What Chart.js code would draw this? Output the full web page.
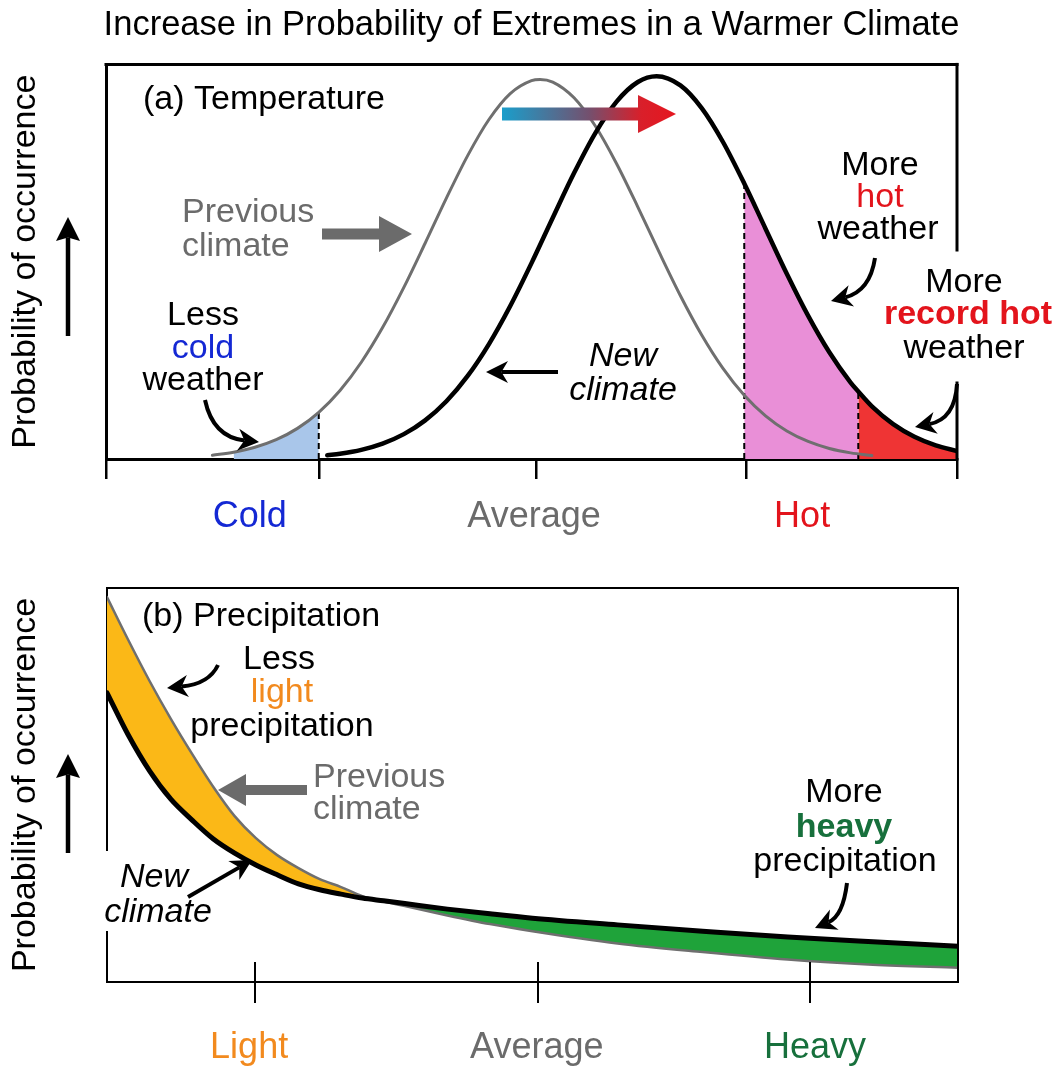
<!DOCTYPE html>
<html>
<head>
<meta charset="utf-8">
<script src="https://cdn.jsdelivr.net/npm/chart.js@4.4.1/dist/chart.umd.min.js"></script>
<style>
html,body{margin:0;padding:0;background:#fff;}
#wrap{position:relative;width:1063px;height:1072px;overflow:hidden;background:#fff;}
#cA{position:absolute;left:0;top:0;}
#cB{position:absolute;left:0;top:545px;}
</style>
</head>
<body>
<div id="wrap">
<canvas id="cA" width="1063" height="545"></canvas>
<canvas id="cB" width="1063" height="527"></canvas>
</div>
<script>
// ================= DATA : panel (a) Temperature =================
const tempAxisTicks = [0, 25, 50.6, 75.2, 100];
const tempCategories = ['Cold', 'Average', 'Hot'];
const tempCategoryPos = [16.9, 50.3, 81.8];

const prevTempX = [12.5,15,17.5,20,22.5,25,27.5,30,32.5,35,37.5,40,42.5,45,47.5,50,51,52.5,55,57.5,60,62.5,65,67.5,70,72.5,75,77.5,80,82.5,85,87.5,90];
const prevTempY = [0.97,1.73,2.97,4.89,7.76,11.83,17.37,24.52,33.30,43.50,54.68,66.11,76.89,86.04,92.61,95.90,96.2,95.53,91.54,84.39,74.84,63.85,52.40,41.37,31.42,22.95,16.13,10.91,7.09,4.44,2.67,1.55,0.86];

const newTempX = [26,27.5,30,32.5,35,37.5,40,42.5,45,47.5,50,52.5,55,57.5,60,62.5,64.7,67.5,70,72.5,75,77.5,80,82.5,85,87.5,88.4,90,92.5,95,97.5,100];
const newTempY = [0.93,1.33,2.32,3.90,6.30,9.79,14.64,21.05,29.13,38.77,49.64,61.15,72.46,82.60,90.58,95.55,97.0,94.67,88.91,80.33,69.81,58.37,46.95,36.33,27.04,19.36,17.1,13.34,8.84,5.63,3.45,2.04];

const coldRange = [15, 25];      // shaded under previous climate
const hotRange = [75, 88.4];     // shaded under new climate
const recordRange = [88.4, 100]; // shaded under new climate

// ================= DATA : panel (b) Precipitation =================
const precipAxisTicks = [17.4, 50.6, 82.6];
const precipCategories = ['Light', 'Average', 'Heavy'];
const precipCategoryPos = [16.7, 50.5, 83.2];

const precipX = [0,2.5,5,7.5,10,12.5,15,17.5,20,22.5,25,27.5,30,32.5,35,40,45,50,60,70,80,90,100];
const prevPrecipY = [97.7,86.8,76.4,66.8,57.9,49.5,42.1,36.5,32.2,28.9,26.1,24.1,21.8,20.4,19.3,16.9,14.7,12.9,9.8,7.6,5.7,4.4,3.6];
const newPrecipY  = [73.4,62.7,53.6,46.4,41.1,36.3,32.7,29.7,27.2,24.9,23.4,22.3,21.3,20.6,19.9,18.5,17.3,16.2,14.5,12.9,11.4,10.2,9.1];

// ================= STYLE =================
const FONT = '"Liberation Sans", Arial, Helvetica, sans-serif';
const C = {
  greyLine: '#6f6f6f', greyText: '#6b6b6b', blue: '#1428d4', red: '#e3141c',
  orange: '#f28a1e', greenText: '#17703c',
  coldFill: '#a9c6ea', hotFill: '#e98fd7', recordFill: '#ef3434',
  yellow: '#fbb817', green: '#1fa33a'
};

const pts = (xs, ys) => xs.map((x, i) => ({x, y: ys[i]}));
const inRange = (arr, r) => arr.filter(p => p.x >= r[0] && p.x <= r[1]);
const valAt = (xs, ys, x) => ys[xs.indexOf(x)];

// ---------- drawing helpers ----------
function txt(ctx, s) {
  ctx.save();
  ctx.font = `${s.style || 'normal'} ${s.weight || 'normal'} ${s.size || 34}px ${FONT}`;
  ctx.fillStyle = s.color || '#000';
  ctx.textAlign = s.align || 'center';
  ctx.textBaseline = 'middle';
  ctx.fillText(s.t, s.x, s.y);
  ctx.restore();
}
function head(ctx, tx, ty, dx, dy, len, hw, notch, color) {
  const L = Math.hypot(dx, dy), ux = dx / L, uy = dy / L, nx = -uy, ny = ux;
  ctx.beginPath();
  ctx.moveTo(tx, ty);
  ctx.lineTo(tx - ux * len + nx * hw, ty - uy * len + ny * hw);
  ctx.lineTo(tx - ux * len * notch, ty - uy * len * notch);
  ctx.lineTo(tx - ux * len - nx * hw, ty - uy * len - ny * hw);
  ctx.closePath();
  ctx.fillStyle = color;
  ctx.fill();
}
function curveArrow(ctx, a, o = {}) {
  const [x0, y0, cx, cy, x1, y1] = a;
  const len = o.len || 20, hw = o.hw || 10, notch = o.notch || 0.7, col = o.color || '#000';
  const dx = x1 - cx, dy = y1 - cy, L = Math.hypot(dx, dy);
  const ex = x1 - dx / L * len * notch, ey = y1 - dy / L * len * notch;
  ctx.save();
  ctx.strokeStyle = col; ctx.lineWidth = o.lw || 4; ctx.lineCap = 'butt';
  ctx.beginPath(); ctx.moveTo(x0, y0); ctx.quadraticCurveTo(cx, cy, ex, ey); ctx.stroke();
  head(ctx, x1, y1, dx, dy, len, hw, notch, col);
  ctx.restore();
}
function straightArrow(ctx, x0, y0, x1, y1, o) {
  curveArrow(ctx, [x0, y0, (x0 + x1) / 2, (y0 + y1) / 2, x1, y1], o);
}
function blockArrow(ctx, x0, y, x1, sh, hl, hh, fill) {
  const d = Math.sign(x1 - x0), hb = x1 - d * hl;
  ctx.save();
  ctx.beginPath();
  ctx.moveTo(x0, y - sh / 2); ctx.lineTo(hb, y - sh / 2); ctx.lineTo(hb, y - hh / 2);
  ctx.lineTo(x1, y); ctx.lineTo(hb, y + hh / 2); ctx.lineTo(hb, y + sh / 2); ctx.lineTo(x0, y + sh / 2);
  ctx.closePath(); ctx.fillStyle = fill; ctx.fill();
  ctx.restore();
}
function line(ctx, x0, y0, x1, y1, w, col) {
  ctx.save(); ctx.strokeStyle = col || '#000'; ctx.lineWidth = w; ctx.lineCap = 'square';
  ctx.beginPath(); ctx.moveTo(x0, y0); ctx.lineTo(x1, y1); ctx.stroke(); ctx.restore();
}

function baseOptions(axisW, rightW, xH, ticks, tickLen, borderW, padTop, title) {
  return {
    responsive: false, animation: false, events: [],
    layout: {padding: {top: padTop, left: 0, right: 0, bottom: 0}},
    plugins: {
      legend: {display: false}, tooltip: {enabled: false},
      filler: {drawTime: 'beforeDatasetsDraw'},
      title: title ? {display: true, text: title, color: '#000',
        font: {family: FONT, size: 34.5, weight: 'normal'}, padding: {top: 5, bottom: 18}} : {display: false}
    },
    scales: {
      x: {type: 'linear', min: 0, max: 100, position: 'bottom',
        afterBuildTicks: s => { s.ticks = ticks.map(v => ({value: v})); },
        afterFit: s => { s.height = xH; },
        ticks: {display: false},
        grid: {display: true, drawOnChartArea: false, drawTicks: true, tickLength: tickLen, lineWidth: borderW === 3 ? 2.5 : 2, color: '#000'},
        border: {display: true, width: borderW, color: '#000'}},
      y: {type: 'linear', min: 0, max: 100, position: 'left',
        afterFit: s => { s.width = axisW; },
        ticks: {display: false}, grid: {display: false},
        border: {display: true, width: borderW, color: '#000'},
        title: {display: true, text: 'Probability of occurrence', color: '#000',
          font: {family: FONT, size: 34, weight: 'normal'}, padding: {top: 5, bottom: 0}}},
      yR: {type: 'linear', min: 0, max: 100, position: 'right', display: true,
        afterFit: s => { s.width = rightW; },
        ticks: {display: false}, grid: {display: false}, border: {display: false}}
    }
  };
}

const lineDs = (data, color, w, extra) => Object.assign({
  data, borderColor: color, borderWidth: w, pointRadius: 0, fill: false,
  cubicInterpolationMode: 'monotone', borderJoinStyle: 'round', borderCapStyle: 'round'
}, extra || {});
const fillDs = (data, color) => ({
  data, borderWidth: 0, borderColor: 'rgba(0,0,0,0)', backgroundColor: color,
  pointRadius: 0, fill: 'origin', cubicInterpolationMode: 'monotone'
});
const dashDs = (x, top) => ({
  data: [{x, y: 0}, {x, y: top}], borderColor: '#000', borderWidth: 2, borderDash: [6, 4],
  pointRadius: 0, fill: false, tension: 0
});

// ================= PANEL (a) =================
const prevTemp = pts(prevTempX, prevTempY);
const newTemp = pts(newTempX, newTempY);

const annotA = {
  id: 'annotA',
  afterDraw(chart) {
    const ctx = chart.ctx, a = chart.chartArea, xs = chart.scales.x;
    line(ctx, a.left, a.top, a.right, a.top, 3);
    line(ctx, a.right, a.top, a.right, 250, 3);
    line(ctx, a.right, 383, a.right, a.bottom, 3);
    const cols = [C.blue, C.greyText, C.red];
    tempCategories.forEach((c, i) => txt(ctx, {t: c, x: xs.getPixelForValue(tempCategoryPos[i]), y: 517, size: 36, color: cols[i]}));
    straightArrow(ctx, 68, 336, 68, 217, {lw: 4.5, len: 24, hw: 12, notch: 0.85});
    const g = ctx.createLinearGradient(502, 0, 676, 0);
    g.addColorStop(0, '#1a9ecb'); g.addColorStop(0.5, '#74506e'); g.addColorStop(0.8, '#d91f2a'); g.addColorStop(1, '#e5161f');
    blockArrow(ctx, 502, 114, 676, 13, 38, 38, g);
    blockArrow(ctx, 322, 234, 412, 11, 33, 36, '#6b6b6b');
    straightArrow(ctx, 558, 372, 486, 372, {lw: 4, len: 22, hw: 11, notch: 0.7});
    curveArrow(ctx, [205, 400, 213, 437, 259, 442], {len: 21, hw: 11});
    curveArrow(ctx, [875, 258, 870, 291, 831, 301], {len: 21, hw: 11});
    curveArrow(ctx, [957, 384, 955, 419, 915, 427], {len: 21, hw: 11});
    [
      {t: '(a) Temperature', x: 143, y: 100, align: 'left'},
      {t: 'Previous', x: 182, y: 213, align: 'left', color: C.greyText},
      {t: 'climate', x: 182, y: 247, align: 'left', color: C.greyText},
      {t: 'Less', x: 203, y: 316},
      {t: 'cold', x: 203, y: 349, color: C.blue},
      {t: 'weather', x: 203, y: 381},
      {t: 'New', x: 623, y: 357, style: 'italic'},
      {t: 'climate', x: 623, y: 391, style: 'italic'},
      {t: 'More', x: 880, y: 166},
      {t: 'hot', x: 880, y: 198, color: C.red},
      {t: 'weather', x: 878, y: 230},
      {t: 'More', x: 964, y: 283},
      {t: 'record hot', x: 968, y: 315, color: C.red, weight: 'bold'},
      {t: 'weather', x: 964, y: 349}
    ].forEach(s => txt(ctx, s));
  }
};

new Chart(document.getElementById('cA'), {
  type: 'line',
  data: {
    datasets: [
      lineDs(newTemp, '#000', 4.5),
      lineDs(prevTemp, C.greyLine, 3),
      dashDs(coldRange[1], valAt(prevTempX, prevTempY, coldRange[1])),
      dashDs(hotRange[0], valAt(newTempX, newTempY, hotRange[0])),
      dashDs(recordRange[0], valAt(newTempX, newTempY, recordRange[0])),
      fillDs(inRange(prevTemp, coldRange), C.coldFill),
      fillDs(inRange(newTemp, hotRange), C.hotFill),
      fillDs(inRange(newTemp, recordRange), C.recordFill)
    ]
  },
  options: baseOptions(106, 106, 86, tempAxisTicks, 20, 3, 0,
    'Increase in Probability of Extremes in a Warmer Climate'),
  plugins: [annotA]
});

// ================= PANEL (b) =================
const prevPrecip = pts(precipX, prevPrecipY);
const newPrecip = pts(precipX, newPrecipY);

const annotB = {
  id: 'annotB',
  afterDraw(chart) {
    const ctx = chart.ctx, a = chart.chartArea, xs = chart.scales.x;
    line(ctx, a.left, a.top, a.right, a.top, 2);
    line(ctx, a.right, a.top, a.right, a.bottom, 2);
    precipAxisTicks.forEach(v => {
      const px = Math.round(xs.getPixelForValue(v));
      line(ctx, px, a.bottom - 19, px, a.bottom, 2);
    });
    ctx.fillStyle = '#fff';
    ctx.fillRect(a.left - 3, 306, 6, 80);
    const cols = [C.orange, C.greyText, C.greenText];
    precipCategories.forEach((c, i) => txt(ctx, {t: c, x: xs.getPixelForValue(precipCategoryPos[i]), y: 503, size: 36, color: cols[i]}));
    straightArrow(ctx, 68, 308, 68, 209, {lw: 4.5, len: 24, hw: 12, notch: 0.85});
    blockArrow(ctx, 307, 245, 218, 10, 28, 32, '#6b6b6b');
    curveArrow(ctx, [218, 120, 209, 139, 167, 143], {len: 21, hw: 11});
    straightArrow(ctx, 188, 352, 252, 315, {lw: 4, len: 21, hw: 11});
    curveArrow(ctx, [847, 338, 843, 371, 815, 383], {len: 21, hw: 11});
    [
      {t: '(b) Precipitation', x: 142, y: 72, align: 'left'},
      {t: 'Less', x: 279, y: 115},
      {t: 'light', x: 282, y: 148, color: C.orange},
      {t: 'precipitation', x: 282, y: 182},
      {t: 'Previous', x: 313, y: 233, align: 'left', color: C.greyText},
      {t: 'climate', x: 313, y: 265, align: 'left', color: C.greyText},
      {t: 'New', x: 154, y: 333, style: 'italic'},
      {t: 'climate', x: 158, y: 368, style: 'italic'},
      {t: 'More', x: 844, y: 248},
      {t: 'heavy', x: 844, y: 283, color: C.greenText, weight: 'bold'},
      {t: 'precipitation', x: 845, y: 317}
    ].forEach(s => txt(ctx, s));
  }
};

new Chart(document.getElementById('cB'), {
  type: 'line',
  data: {
    datasets: [
      lineDs(newPrecip, '#000', 5),
      lineDs(prevPrecip, C.greyLine, 2.5, {fill: {target: 0, above: C.yellow, below: C.green}})
    ]
  },
  options: baseOptions(107, 105, 90, precipAxisTicks, 21, 2, 43, null),
  plugins: [annotB]
});
</script>
</body>
</html>
